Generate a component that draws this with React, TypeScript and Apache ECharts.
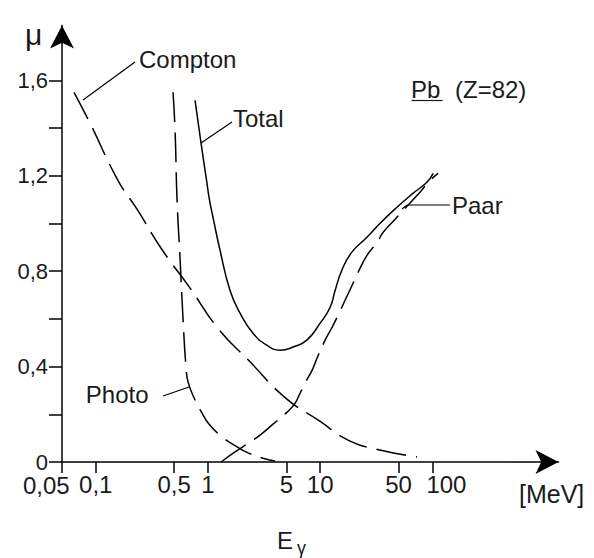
import React, { useEffect, useRef } from 'react';
import * as echarts from 'echarts';

// Energy axis (MeV, log) ticks and labels
const energyTicks = [0.05, 0.1, 0.5, 1, 5, 10, 50, 100];
const energyTickLabels = ['0,05', '0,1', '0,5', '1', '5', '10', '50', '100'];
// Attenuation axis ticks and labels
const muTicks = [0, 0.2, 0.4, 0.6, 0.8, 1.0, 1.2, 1.4, 1.6];
const muLabelTicks = [0, 0.4, 0.8, 1.2, 1.6];
const muTickLabels = ['0', '0,4', '0,8', '1,2', '1,6'];

// Compton scattering
const comptonE = [0.064, 0.089, 0.158, 0.233, 0.39, 0.69, 1.23, 2.37, 4.87, 10, 17.7, 34, 73];
const comptonMu = [1.55, 1.42, 1.18, 1.06, 0.89, 0.73, 0.56, 0.42, 0.27, 0.17, 0.092, 0.05, 0.021];

// Photo effect
const photoE = [0.488, 0.509, 0.53, 0.564, 0.6, 0.638, 0.665, 0.767, 0.886, 1.02, 1.34, 1.82, 2.28, 3.04, 3.96];
const photoMu = [1.55, 1.39, 1.1, 0.85, 0.595, 0.394, 0.335, 0.26, 0.205, 0.159, 0.105, 0.063, 0.038, 0.017, 0.004];

// Pair production
const paarE = [1.31, 1.74, 2.37, 2.91, 3.8, 5.07, 5.98, 6.62, 7.49, 8.48, 9.39, 11.07, 12.78, 14.45, 16.69, 19.27, 21.79, 26.22, 32.19, 36.41, 46.57, 57.2, 73.2, 95.6, 112.6];
const paarMu = [0, 0.042, 0.084, 0.113, 0.159, 0.209, 0.247, 0.289, 0.339, 0.385, 0.436, 0.511, 0.565, 0.616, 0.679, 0.741, 0.796, 0.867, 0.921, 0.963, 1.018, 1.064, 1.118, 1.181, 1.21];

// Total
const totalE = [0.767, 0.868, 0.971, 1.033, 1.122, 1.28, 1.57, 1.93, 2.52, 3.34, 4.39, 5.74, 7.6, 9.99, 12.27, 13.6, 15.6, 19.15, 26.1, 34.2, 48.3, 67.4, 89.3, 101.6];
const totalMu = [1.516, 1.336, 1.181, 1.097, 1.014, 0.888, 0.72, 0.624, 0.54, 0.49, 0.469, 0.482, 0.511, 0.582, 0.649, 0.72, 0.804, 0.88, 0.942, 1.001, 1.068, 1.127, 1.173, 1.21];

const FONT = '"Liberation Sans", Arial, sans-serif';
const INK = '#1a1a1a';

function pairs(xs: number[], ys: number[]) {
  return xs.map((x, i) => [x, ys[i]]);
}

function energyIndex(v: number) {
  let best = 0;
  for (let i = 0; i < energyTicks.length; i++) {
    if (Math.abs(Math.log10(energyTicks[i]) - Math.log10(v)) < Math.abs(Math.log10(energyTicks[best]) - Math.log10(v))) best = i;
  }
  return best;
}

function energyLabel(v: number) {
  const best = energyIndex(v);
  const t = energyTickLabels[best];
  if (best === 0) return ''; // first label is placed separately (shifted left of its tick)
  if (best === energyTicks.length - 1) return '{r|' + t + '}';
  return '{n|' + t + '}';
}

function muLabel(v: number) {
  for (let i = 0; i < muLabelTicks.length; i++) {
    if (Math.abs(muLabelTicks[i] - v) < 1e-6) return muTickLabels[i];
  }
  return '';
}

function text(x: number, y: number, t: string, size = 24, align = 'left') {
  return {
    type: 'text',
    x,
    y,
    style: { text: t, fill: INK, font: `${size}px ${FONT}`, align, verticalAlign: 'middle' },
  };
}

function leader(points: number[][]) {
  return {
    type: 'polyline',
    shape: { points },
    style: { stroke: '#000', lineWidth: 1.2, fill: null },
  };
}

export default function App() {
  const ref = useRef<HTMLDivElement>(null);
  useEffect(() => {
    if (!ref.current) return;
    const chart = echarts.init(ref.current, null, { renderer: 'svg' });
    const dashed = [30, 10];
    const lineSeries = (name: string, data: number[][], dash: any) => ({
      name,
      type: 'line',
      data,
      showSymbol: false,
      symbol: 'none',
      smooth: 0.5,
      clip: false,
      lineStyle: { color: '#000', width: 1.5, type: dash },
      emphasis: { disabled: true },
    });
    const labelRich = {
      n: { fontSize: 24, fontFamily: FONT, color: INK },
      r: { fontSize: 24, fontFamily: FONT, color: INK, padding: [0, 0, 0, 28] },
    };
    chart.setOption({
      animation: false,
      backgroundColor: '#fff',
      grid: { left: 62, top: 25.5, right: 35.5, bottom: 96, containLabel: false, outerBoundsMode: 'none' },
      xAxis: {
        type: 'log',
        logBase: 10,
        min: 0.05,
        max: 1330,
        axisLine: {
          show: true,
          onZero: false,
          symbol: ['none', 'arrow'],
          symbolSize: [18, 23],
          lineStyle: { color: '#000', width: 1.5 },
        },
        axisTick: {
          show: true,
          length: 11,
          customValues: energyTicks,
          lineStyle: { color: '#000', width: 1.5 },
        },
        axisLabel: {
          show: true,
          margin: 10,
          showMinLabel: true,
          showMaxLabel: true,
          hideOverlap: false,
          customValues: energyTicks,
          formatter: (v: number) => energyLabel(v),
          rich: labelRich,
          fontSize: 24,
          fontFamily: FONT,
          color: INK,
        },
        minorTick: { show: false },
        splitLine: { show: false },
      },
      yAxis: {
        type: 'value',
        min: 0,
        max: 1.83,
        axisLine: {
          show: true,
          onZero: false,
          symbol: ['none', 'arrow'],
          symbolSize: [18, 23],
          lineStyle: { color: '#000', width: 1.5 },
        },
        axisTick: {
          show: true,
          length: 13,
          customValues: muTicks,
          lineStyle: { color: '#000', width: 1.5 },
        },
        axisLabel: {
          show: true,
          margin: 14,
          showMinLabel: true,
          showMaxLabel: true,
          hideOverlap: false,
          customValues: muLabelTicks,
          formatter: (v: number) => muLabel(v),
          fontSize: 22,
          fontFamily: FONT,
          color: INK,
        },
        splitLine: { show: false },
      },
      series: [
        lineSeries('Compton', pairs(comptonE, comptonMu), dashed),
        lineSeries('Photo', pairs(photoE, photoMu), dashed),
        lineSeries('Paar', pairs(paarE, paarMu), dashed),
        lineSeries('Total', pairs(totalE, totalMu), 'solid'),
      ],
    });

    // First energy tick label: positioned from the axis scale, set left of its tick as in the original
    const x0 = chart.convertToPixel({ xAxisIndex: 0 }, energyTicks[0]) as number;
    const y0 = chart.convertToPixel({ yAxisIndex: 0 }, 0) as number;

    chart.setOption({
      graphic: [
        text(x0 - 39, y0 + 23.5, energyTickLabels[0], 24, 'left'),
        text(25, 34, 'μ', 30),
        text(139, 59, 'Compton'),
        text(233, 118, 'Total'),
        text(411, 89, 'Pb'),
        { type: 'line', shape: { x1: 411.5, y1: 100.5, x2: 442.5, y2: 100.5 }, style: { stroke: INK, lineWidth: 1.2 } },
        text(455, 89, '(Z=82)'),
        text(452, 205, 'Paar'),
        text(148.5, 394.5, 'Photo', 24, 'right'),
        text(519, 494, '[MeV]', 25),
        text(277, 540.5, 'E'),
        text(297, 548, 'γ', 18),
        leader([[83, 100], [135, 62]]),
        leader([[201, 143], [232, 122]]),
        leader([[402, 209], [407, 205], [450, 205]]),
        leader([[163, 396], [189, 387]]),
      ],
    });
    return () => chart.dispose();
  }, []);
  return (
    <div
      ref={ref}
      style={{ position: 'fixed', left: 0, top: 0, width: 594, height: 558, background: '#fff' }}
    />
  );
}
